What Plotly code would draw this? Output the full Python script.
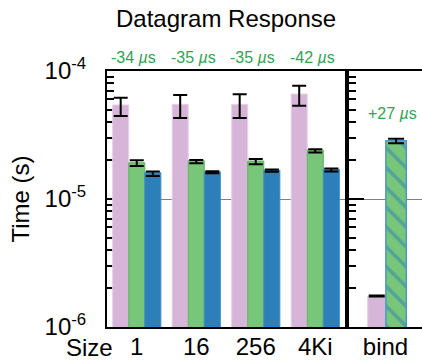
import math
import plotly.graph_objects as go

# ---- data ----
sizes = ['1', '16', '256', '4Ki']
pink_vals = [5.43e-5, 5.49e-5, 5.49e-5, 6.61e-5]
pink_hi = [6.18e-5, 6.49e-5, 6.58e-5, 7.68e-5]
pink_lo = [4.45e-5, 4.29e-5, 4.29e-5, 5.36e-5]
green_vals = [1.92e-5, 1.99e-5, 1.98e-5, 2.41e-5]
green_hi = [2.005e-5, 2.02e-5, 2.05e-5, 2.45e-5]
green_lo = [1.81e-5, 1.90e-5, 1.87e-5, 2.31e-5]
blue_vals = [1.605e-5, 1.63e-5, 1.68e-5, 1.71e-5]
blue_hi = [1.64e-5, 1.65e-5, 1.70e-5, 1.73e-5]
blue_lo = [1.51e-5, 1.59e-5, 1.63e-5, 1.64e-5]
deltas = ['-34', '-35', '-35', '-42']

bind_cat = ['bind']
bind_pink = [1.746e-6]
bind_pink_hi = [1.76e-6]
bind_pink_lo = [1.73e-6]
bind_hatch = [2.85e-5]
bind_hatch_hi = [2.96e-5]
bind_hatch_lo = [2.73e-5]
bind_delta = '+27'

ytick_vals = [1e-6, 1e-5, 1e-4]
ytick_text = ['10<sup>-6</sup>', '10<sup>-5</sup>', '10<sup>-4</sup>']
minor_vals = [m * 10.0 ** e for e in (-6, -5) for m in range(2, 10)]

PINK = '#d7b5d8'
GREEN = '#78c679'
BLUE = '#2c7fb8'
TXTGREEN = '#31a354'
FONT = 'Liberation Sans, Arial, Helvetica, sans-serif'


def plus(v, h):
    return [a - b for a, b in zip(h, v)]


def minus(v, l):
    return [a - b for a, b in zip(v, l)]


fig = go.Figure()

W = 0.27
for vals, hi, lo, col, line, off in [
    (pink_vals, pink_hi, pink_lo, PINK, '#e6d2e6', -0.405),
    (green_vals, green_hi, green_lo, GREEN, '#5fb060', -0.135),
    (blue_vals, blue_hi, blue_lo, BLUE, '#3f8fc4', 0.135),
]:
    fig.add_trace(go.Bar(
        x=sizes, y=vals, xaxis='x', yaxis='y',
        width=W, offset=off,
        marker=dict(color=col, line=dict(color=line, width=1)),
        error_y=dict(type='data', array=plus(vals, hi), arrayminus=minus(vals, lo),
                     color='black', thickness=2, width=7),
        showlegend=False,
    ))

# right panel
fig.add_trace(go.Bar(
    x=bind_cat, y=bind_pink, xaxis='x2', yaxis='y2',
    width=0.25, offset=-0.245,
    marker=dict(color=PINK, line=dict(color='#e6d2e6', width=1)),
    error_y=dict(type='data', array=plus(bind_pink, bind_pink_hi),
                 arrayminus=minus(bind_pink, bind_pink_lo),
                 color='black', thickness=2, width=8),
    showlegend=False,
))
fig.add_trace(go.Bar(
    x=bind_cat, y=bind_hatch, xaxis='x2', yaxis='y2',
    width=0.28, offset=0.005,
    marker=dict(color=GREEN, line=dict(color='#4a98c4', width=1.5),
                pattern=dict(shape='\\', fgcolor=BLUE, size=14, solidity=0.25)),
    error_y=dict(type='data', array=plus(bind_hatch, bind_hatch_hi),
                 arrayminus=minus(bind_hatch, bind_hatch_lo),
                 color='black', thickness=2, width=8),
    showlegend=False,
))

yax = dict(
    type='log', range=[-6, -4],
    tickmode='array', tickvals=ytick_vals, ticktext=ytick_text,
    ticks='inside', ticklen=15, tickwidth=1.5, tickcolor='black',
    minor=dict(tickmode='array', tickvals=minor_vals, ticks='inside',
               ticklen=7, tickwidth=1.5, tickcolor='black', showgrid=False),
    showgrid=True, gridcolor='#808080', gridwidth=1,
    showline=True, linecolor='black', linewidth=2,
    zeroline=False, layer='below traces',
    tickfont=dict(size=24, color='black', family=FONT),
)

fig.update_layout(
    width=422, height=360,
    margin=dict(l=107, r=0, t=71, b=33, autoexpand=False),
    paper_bgcolor='white', plot_bgcolor='white',
    barmode='overlay',
    font=dict(family=FONT, color='black'),
    xaxis=dict(domain=[0, 0.7556], range=[-0.5, 3.5], anchor='y',
               showline=True, linecolor='black', linewidth=2, mirror=True,
               ticks='', showgrid=False, zeroline=False,
               tickfont=dict(size=24, color='black', family=FONT), ticklabelstandoff=-3),
    xaxis2=dict(domain=[0.7683, 1], range=[-0.5, 0.5], anchor='y2',
                showline=True, linecolor='black', linewidth=2, mirror=True,
                ticks='', showgrid=False, zeroline=False,
                tickfont=dict(size=24, color='black', family=FONT), ticklabelstandoff=-3),
    yaxis=dict(anchor='x', mirror=True, showticklabels=True, ticklabelstandoff=14,
               title=dict(text='Time (s)', font=dict(size=24, color='black', family=FONT),
                          standoff=8),
               **yax),
    yaxis2=dict(anchor='x2', mirror=False, showticklabels=False, **yax),
)

annots = []
for i, d in enumerate(deltas):
    annots.append(dict(x=i, xref='x', y=1, yref='y domain', yshift=14, xshift=-3,
                       yanchor='middle',
                       text=f'{d} <i>µ</i>s', showarrow=False,
                       font=dict(size=16, color=TXTGREEN, family=FONT)))
annots.append(dict(x=0, xref='x2', y=math.log10(bind_hatch_hi[0]), yref='y2',
                   yshift=25, xshift=7, yanchor='middle',
                   text=f'{bind_delta} <i>µ</i>s', showarrow=False,
                   font=dict(size=16, color=TXTGREEN, family=FONT)))
annots.append(dict(x=0.5, xref='x domain', y=1, yref='paper', yshift=53, yanchor='middle',
                   text='Datagram Response', showarrow=False,
                   font=dict(size=24, color='black', family=FONT)))
annots.append(dict(x=0.0254, xref='paper', y=0, yref='paper', xanchor='right', yanchor='middle',
                   yshift=-20, text='Size', showarrow=False,
                   font=dict(size=24, color='black', family=FONT)))
fig.update_layout(annotations=annots)

fig.write_html('out.html', config={'displayModeBar': False},
               post_script="document.body.style.margin='0px';document.body.style.padding='0px';")
